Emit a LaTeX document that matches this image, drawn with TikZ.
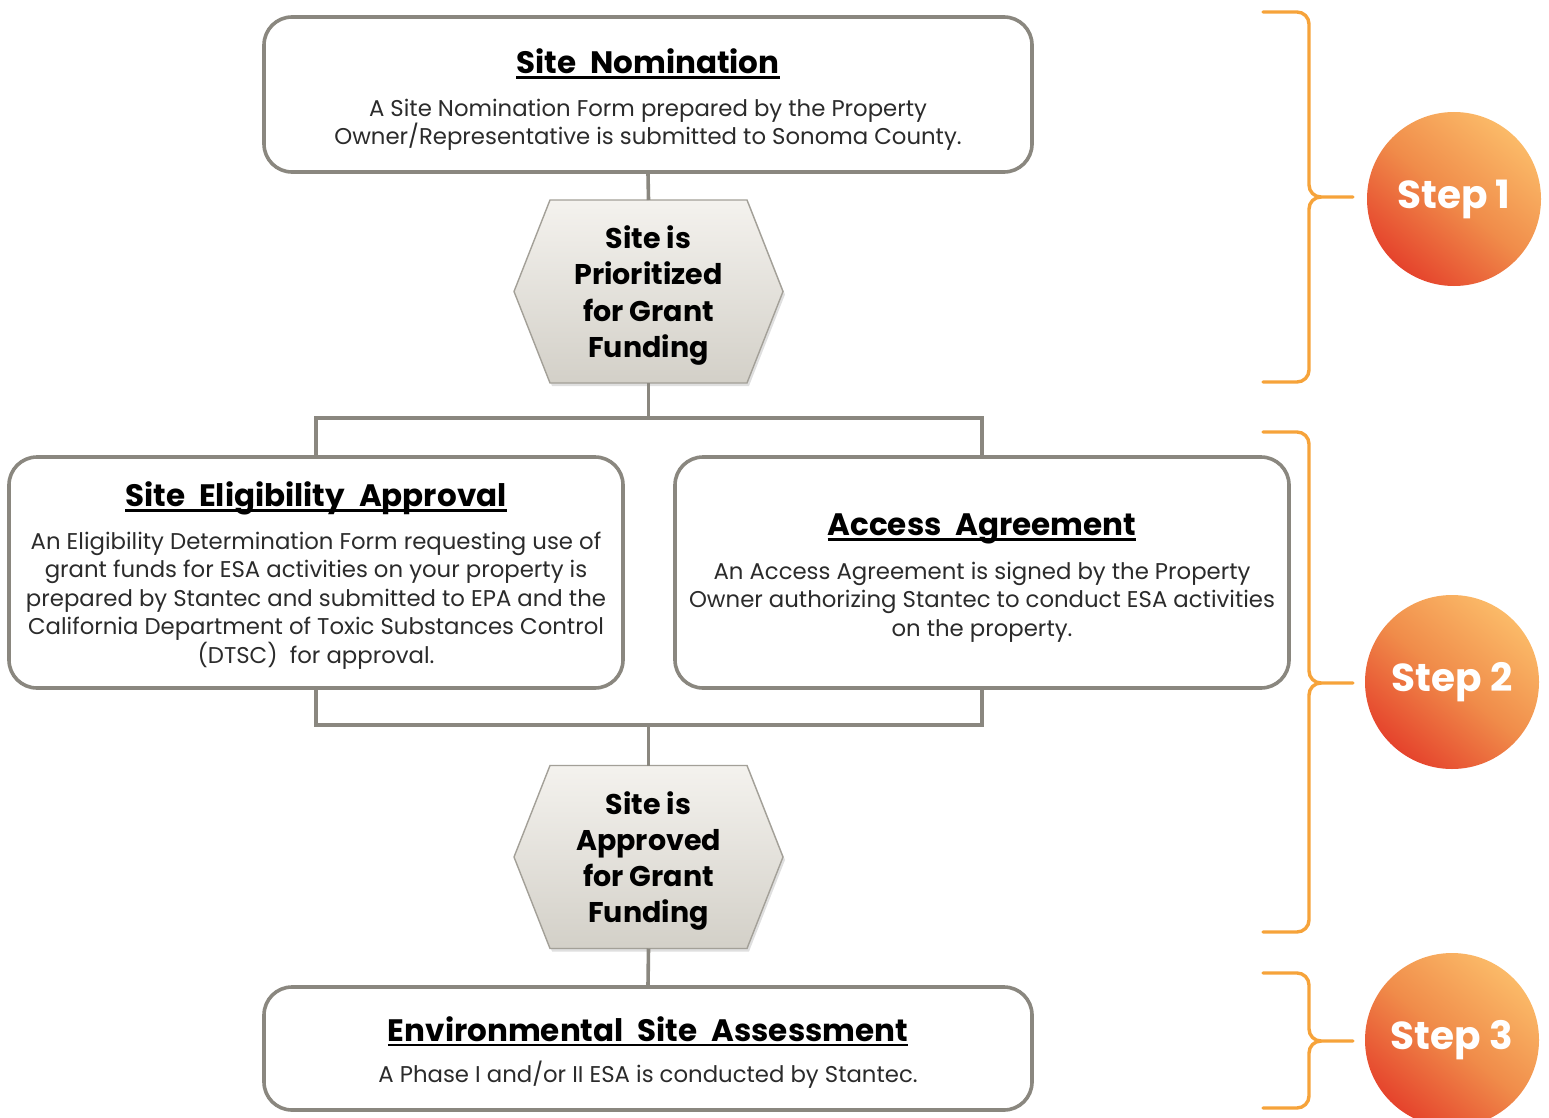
\documentclass[tikz,border=0pt]{standalone}
\usepackage{fontspec}
\setmainfont{Poppins}
\usetikzlibrary{calc,shadows}

\definecolor{edgegray}{HTML}{8A877F}
\definecolor{hexedge}{HTML}{A3A098}
\definecolor{hextop}{HTML}{F4F2EE}
\definecolor{hexbot}{HTML}{D3D0C8}
\definecolor{braceorange}{HTML}{F6A33A}
\definecolor{balllight}{HTML}{FBBA68}
\definecolor{ballmid}{HTML}{F08C4A}
\definecolor{balldark}{HTML}{E5432C}
\definecolor{bodytext}{HTML}{2B2B2B}

% underlined title with a heavier rule
\newcommand{\ttlul}[1]{\setbox0\hbox{#1}\leavevmode\rlap{\rule[-5pt]{\wd0}{2.6pt}}\box0}
\newcommand{\ttlfont}{\fontsize{31}{36}\selectfont\bfseries\color{black}}
\newcommand{\bodyfont}{\fontsize{22.8}{28.5}\selectfont\color{bodytext}}
\newcommand{\wsp}{\hspace{0.45em}}

% orange curly bracket: top end, tip and bottom end (y values)
\newcommand{\stepbrace}[4]{%
  \coordinate (#1) at (1353,#3);
  \draw[bracestyle] (1263,#2) -- (1297,#2) to[out=0,in=90] (1309,#2+12)
     -- (1309,#3-12) to[out=-90,in=180] (1321,#3) -- (#1);
  \draw[bracestyle] (1263,#4) -- (1297,#4) to[out=0,in=-90] (1309,#4-12)
     -- (1309,#3+12) to[out=90,in=180] (1321,#3);
}

% hexagonal decision shape around a centre coordinate, with named top and bottom
\newcommand{\hexshape}[1]{%
  \path[hexfill] ($(#1)+(-134.5,0)$) -- ($(#1)+(-98.5,-91.5)$) -- ($(#1)+(98.5,-91.5)$)
     -- ($(#1)+(134.5,0)$) -- ($(#1)+(98.5,91.5)$) -- ($(#1)+(-98.5,91.5)$) -- cycle;
  \coordinate (#1top) at ($(#1)+(0,-91.5)$);
  \coordinate (#1bot) at ($(#1)+(0,91.5)$);
}

\begin{document}
\begin{tikzpicture}[x=1pt,y=-1pt,
  infobox/.style={draw=edgegray, line width=3.6pt, rounded corners=28pt, fill=white,
    inner sep=0pt},
  boxtext/.style={align=center, inner sep=0pt, font=\bodyfont},
  hexfill/.style={draw=hexedge, line width=1.4pt, top color=hextop, bottom color=hexbot,
    drop shadow={opacity=0.25, shadow xshift=2pt, shadow yshift=-3pt}},
  hextext/.style={align=center, inner sep=0pt,
    font=\fontsize{28.5}{36.3}\selectfont\bfseries},
  conn/.style={draw=edgegray, line width=3.6pt},
  bracestyle/.style={draw=braceorange, line width=3.4pt, line cap=round},
  stepball/.style={circle, minimum size=174pt, inner sep=0pt, top color=balllight,
    bottom color=balldark, middle color=ballmid, shading angle=-40, text=white,
    font=\fontsize{39}{40}\selectfont\bfseries},
]
\useasboundingbox (0,0) rectangle (1549,1118);

% process boxes
\node[infobox, minimum width=768pt, minimum height=155pt] (nom) at (648,94.5) {};
\node[boxtext] (nomtext) at ($(nom.center)+(0,5.5)$)
  {{\ttlfont\ttlul{Site\wsp Nomination}}\\[14pt]
   A Site Nomination Form prepared by the Property\\
   Owner/Representative is submitted to Sonoma County.};

\node[infobox, minimum width=614pt, minimum height=231pt] (elig) at (316,572.5) {};
\node[boxtext] (eligtext) at ($(elig.center)+(0,3)$)
  {{\ttlfont\ttlul{Site\wsp Eligibility\wsp Approval}}\\[14pt]
   An Eligibility Determination Form requesting use of\\
   grant funds for ESA activities on your property is\\
   prepared by Stantec and submitted to EPA and the\\
   California Department of Toxic Substances Control\\
   (DTSC)\ \ for approval.};

\node[infobox, minimum width=614pt, minimum height=231pt] (acc) at (982,572.5) {};
\node[boxtext] (acctext) at ($(acc.center)+(0,5.5)$)
  {{\ttlfont\ttlul{Access\wsp Agreement}}\\[15pt]
   An Access Agreement is signed by the Property\\
   Owner authorizing Stantec to conduct ESA activities\\
   on the property.};

\node[infobox, minimum width=768pt, minimum height=123pt] (env) at (648,1048.5) {};
\node[boxtext] (envtext) at ($(env.center)+(0,4)$)
  {{\ttlfont\ttlul{Environmental\wsp Site\wsp Assessment}}\\[13pt]
   A Phase I and/or II ESA is conducted by Stantec.};

% decision hexagons
\coordinate (h1) at (648.5,291.5);
\hexshape{h1}
\node[hextext] (prio) at ($(h1)+(0,4)$) {Site is\\Prioritized\\for Grant\\Funding};

\coordinate (h2) at (648.5,857);
\hexshape{h2}
\node[hextext] (appr) at ($(h2)+(0,4)$) {Site is\\Approved\\for Grant\\Funding};

% connectors
\coordinate (split) at (648.5,418);
\coordinate (join) at (648.5,725);
\draw[conn] (nom.south) -- (h1top);
\draw[conn] (h1bot) -- (split);
\draw[conn] (elig.north) |- (split) -| (acc.north);
\draw[conn] (elig.south) |- (join) -| (acc.south);
\draw[conn] (join) -- (h2top);
\draw[conn] (h2bot) -- (env.north);

% step brackets
\stepbrace{tipa}{12}{197}{382}
\stepbrace{tipb}{432}{683}{932}
\stepbrace{tipc}{973}{1041}{1108}

% step markers
\node[stepball] (s1) at (1454,199) {\raisebox{-3pt}{Step 1}};
\node[stepball] (s2) at (1452,682) {\raisebox{-3pt}{Step 2}};
\node[stepball] (s3) at (1452,1040) {\raisebox{-3pt}{Step 3}};
\end{tikzpicture}
\end{document}
